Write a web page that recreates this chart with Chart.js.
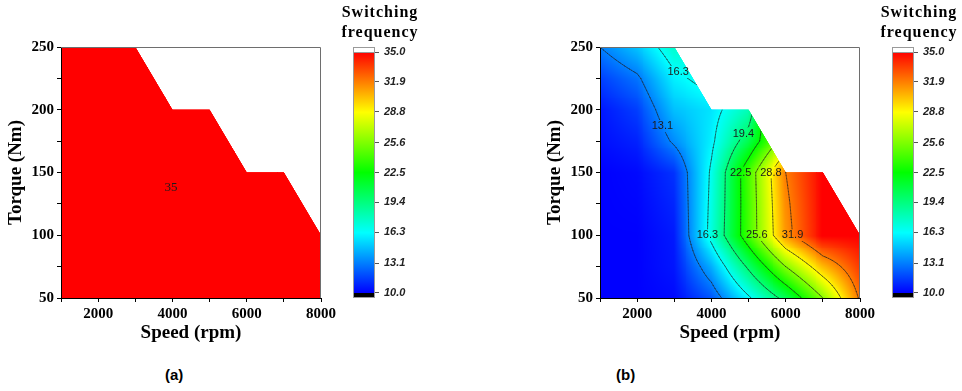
<!DOCTYPE html>
<html>
<head>
<meta charset="utf-8">
<script src="https://cdn.jsdelivr.net/npm/chart.js@4.4.1/dist/chart.umd.min.js"></script>
<style>
  html, body { margin: 0; padding: 0; background: #fff; }
  #figure { position: relative; width: 962px; height: 391px; overflow: hidden; background: #fff; }
  #figure canvas { position: absolute; top: 0; }
  .cbar-title { position: absolute; top: 2px; width: 80px; text-align: center; color: #000;
    font: bold 16px/20px "Liberation Serif", "Times New Roman", serif; letter-spacing: 1px; }
  .panel-tag { position: absolute; top: 366px; color: #000;
    font: bold 15px "Liberation Sans", Arial, sans-serif; }
</style>
</head>
<body>
<div id="figure">
  <canvas id="plotFixed" width="340" height="345" style="left:0px;width:340px;height:345px"></canvas>
  <canvas id="barFixed" width="80" height="300" style="left:340px;width:80px;height:300px"></canvas>
  <div class="cbar-title" style="left:340px">Switching<br>frequency</div>

  <canvas id="plotVariable" width="340" height="345" style="left:539px;width:340px;height:345px"></canvas>
  <canvas id="barVariable" width="80" height="300" style="left:879px;width:80px;height:300px"></canvas>
  <div class="cbar-title" style="left:879px">Switching<br>frequency</div>

  <div class="panel-tag" style="left:165px">(a)</div>
  <div class="panel-tag" style="left:616px">(b)</div>
</div>

<script>
// ---- operating grid -------------------------------------------------------
const speeds = [1000, 2000, 3000, 4000, 5000, 6000, 7000, 8000];          // rpm
const torques = [50, 75, 100, 125, 150, 175, 200, 225, 250];               // Nm
const torqueLimit = [250, 250, 250, 200, 200, 150, 150, 100];             // max torque per speed

// switching frequency (kHz), one row per torque (50 -> 250), one column per speed
const freqFixed = [
  [35, 35, 35, 35, 35, 35, 35, 35],
  [35, 35, 35, 35, 35, 35, 35, 35],
  [35, 35, 35, 35, 35, 35, 35, 35],
  [35, 35, 35, 35, 35, 35, 35, 35],
  [35, 35, 35, 35, 35, 35, 35, 35],
  [35, 35, 35, 35, 35, 35, 35, 35],
  [35, 35, 35, 35, 35, 35, 35, 35],
  [35, 35, 35, 35, 35, 35, 35, 35],
  [35, 35, 35, 35, 35, 35, 35, 35]
];
const freqVariable = [
  [10.0, 10.0, 10.2, 12.0, 16.0, 20.2, 25.6, 32.2],
  [10.0, 10.0, 10.5, 14.2, 19.8, 25.6, 30.3, 33.6],
  [10.0, 10.0, 10.6, 17.0, 24.0, 31.2, 35.0, 35.0],
  [10.0, 10.1, 10.9, 16.8, 24.0, 31.5, 35.0, 35.0],
  [10.0, 10.2, 11.2, 16.6, 24.1, 31.9, 35.0, 35.0],
  [10.3, 10.8, 13.4, 15.9, 20.6, 27.0, 35.0, 35.0],
  [10.5, 11.5, 14.7, 15.6, 18.0, 30.0, 35.0, 35.0],
  [11.5, 12.8, 15.9, 17.0, 18.0, 30.0, 35.0, 35.0],
  [13.1, 14.8, 17.5, 17.0, 18.0, 30.0, 35.0, 35.0]
];

// colour scale and contour levels
const colorTicks = [10.0, 13.1, 16.3, 19.4, 22.5, 25.6, 28.8, 31.9, 35.0];
const contourLevels = [13.1, 16.3, 19.4, 22.5, 25.6, 28.8, 31.9];

// contour labels: level and the torque row on which the label sits
const labelLevels = [16.3, 13.1, 19.4, 22.5, 28.8, 16.3, 25.6, 31.9];
const labelTorques = [230, 187, 181, 150, 150, 100, 100, 100];

// single label of the constant-frequency map
const fixedLabelText = '35';
const fixedLabelSpeed = 3960;
const fixedLabelTorque = 138;

// ---- styling --------------------------------------------------------------
const SERIF = '"Liberation Serif", "Times New Roman", serif';
const SANS = '"Liberation Sans", Arial, sans-serif';
const mapStops = [10, 16.25, 22.5, 28.75, 35];
const mapColors = [[0, 0, 255], [0, 255, 255], [0, 255, 0], [255, 255, 0], [255, 0, 0]];
const cMin = 10, cMax = 35;

function colorFor(v) {
  v = Math.max(cMin, Math.min(cMax, v));
  let k = 0;
  while (k < mapStops.length - 2 && v > mapStops[k + 1]) k++;
  const f = (v - mapStops[k]) / (mapStops[k + 1] - mapStops[k]);
  const a = mapColors[k], b = mapColors[k + 1];
  return 'rgb(' + Math.round(a[0] + (b[0] - a[0]) * f) + ',' +
    Math.round(a[1] + (b[1] - a[1]) * f) + ',' + Math.round(a[2] + (b[2] - a[2]) * f) + ')';
}

function locate(arr, v) {
  let i = 0;
  while (i < arr.length - 2 && v > arr[i + 1]) i++;
  return i;
}

// bilinear value of a grid at (speed, torque)
function sample(grid, s, t) {
  const i = locate(speeds, s), j = locate(torques, t);
  const u = (s - speeds[i]) / (speeds[i + 1] - speeds[i]);
  const w = (t - torques[j]) / (torques[j + 1] - torques[j]);
  return (1 - w) * ((1 - u) * grid[j][i] + u * grid[j][i + 1]) +
         w * ((1 - u) * grid[j + 1][i] + u * grid[j + 1][i + 1]);
}

function limitAt(s) {
  const i = locate(speeds, s);
  const u = (s - speeds[i]) / (speeds[i + 1] - speeds[i]);
  return torqueLimit[i] + (torqueLimit[i + 1] - torqueLimit[i]) * u;
}

// operating envelope as a canvas path
function envelopePath(ctx, x, y) {
  ctx.beginPath();
  ctx.moveTo(x.getPixelForValue(speeds[0]), y.getPixelForValue(torques[0]));
  ctx.lineTo(x.getPixelForValue(speeds[speeds.length - 1]), y.getPixelForValue(torques[0]));
  for (let i = speeds.length - 1; i >= 0; i--) {
    ctx.lineTo(x.getPixelForValue(speeds[i]), y.getPixelForValue(torqueLimit[i]));
  }
  ctx.closePath();
}

function drawField(ctx, x, y, grid) {
  for (let j = 0; j < torques.length - 1; j++) {
    for (let i = 0; i < speeds.length - 1; i++) {
      const ds = speeds[i + 1] - speeds[i], dt = torques[j + 1] - torques[j];
      const nx = Math.ceil(Math.abs(x.getPixelForValue(speeds[i + 1]) - x.getPixelForValue(speeds[i])));
      const ny = Math.ceil(Math.abs(y.getPixelForValue(torques[j + 1]) - y.getPixelForValue(torques[j])));
      for (let a = 0; a < nx; a++) {
        const s0 = speeds[i] + ds * a / nx, s1 = speeds[i] + ds * (a + 1) / nx;
        const px0 = Math.floor(x.getPixelForValue(s0)), px1 = Math.ceil(x.getPixelForValue(s1));
        for (let b = 0; b < ny; b++) {
          const t0 = torques[j] + dt * b / ny, t1 = torques[j] + dt * (b + 1) / ny;
          const py0 = Math.floor(y.getPixelForValue(t1)), py1 = Math.ceil(y.getPixelForValue(t0));
          ctx.fillStyle = colorFor(sample(grid, (s0 + s1) / 2, (t0 + t1) / 2));
          ctx.fillRect(px0, py0, px1 - px0, py1 - py0);
        }
      }
    }
  }
}

// marching squares on a refined copy of the grid
function contourSegments(grid, level) {
  const sStep = 50, tStep = 2.5;
  const ns = Math.round((speeds[speeds.length - 1] - speeds[0]) / sStep);
  const nt = Math.round((torques[torques.length - 1] - torques[0]) / tStep);
  const val = [];
  for (let b = 0; b <= nt; b++) {
    const row = [];
    for (let a = 0; a <= ns; a++) row.push(sample(grid, speeds[0] + a * sStep, torques[0] + b * tStep));
    val.push(row);
  }
  const segs = [];
  const cross = (s0, t0, v0, s1, t1, v1) => {
    const f = (level - v0) / (v1 - v0);
    return [s0 + (s1 - s0) * f, t0 + (t1 - t0) * f];
  };
  for (let b = 0; b < nt; b++) {
    for (let a = 0; a < ns; a++) {
      const s0 = speeds[0] + a * sStep, s1 = s0 + sStep;
      const t0 = torques[0] + b * tStep, t1 = t0 + tStep;
      const va = val[b][a], vb = val[b][a + 1], vc = val[b + 1][a + 1], vd = val[b + 1][a];
      const A = va >= level, B = vb >= level, C = vc >= level, D = vd >= level;
      const pts = [];
      if (A !== B) pts.push(cross(s0, t0, va, s1, t0, vb)); else pts.push(null);
      if (B !== C) pts.push(cross(s1, t0, vb, s1, t1, vc)); else pts.push(null);
      if (C !== D) pts.push(cross(s1, t1, vc, s0, t1, vd)); else pts.push(null);
      if (D !== A) pts.push(cross(s0, t1, vd, s0, t0, va)); else pts.push(null);
      const got = pts.filter(p => p);
      if (got.length === 2) segs.push(got);
      else if (got.length === 4) {
        const centre = (va + vb + vc + vd) / 4 >= level;
        if (centre === A) { segs.push([pts[0], pts[1]]); segs.push([pts[2], pts[3]]); }
        else { segs.push([pts[3], pts[0]]); segs.push([pts[1], pts[2]]); }
      }
    }
  }
  return segs;
}

// speed at which the map reaches a level on a given torque row
function speedOnRow(grid, level, t) {
  let prev = sample(grid, speeds[0], t);
  for (let s = speeds[0] + 5; s <= speeds[speeds.length - 1]; s += 5) {
    const v = sample(grid, s, t);
    if ((prev - level) * (v - level) <= 0 && prev !== v) {
      return s - 5 + 5 * (level - prev) / (v - prev);
    }
    prev = v;
  }
  return null;
}

function mapPlugin(grid, labels) {
  return {
    id: 'frequencyMap',
    beforeDraw(chart) {
      const { ctx, chartArea: area, scales: { x, y } } = chart;
      const boxes = labels.map(l => {
        ctx.font = l.font;
        const w = ctx.measureText(l.text).width;
        return { ...l, px: x.getPixelForValue(l.speed), py: y.getPixelForValue(l.torque), w };
      });

      ctx.save();
      envelopePath(ctx, x, y);
      ctx.clip();
      drawField(ctx, x, y, grid);

      // contour lines, broken behind their labels
      ctx.beginPath();
      ctx.rect(area.left, area.top, area.right - area.left, area.bottom - area.top);
      boxes.forEach(bx => ctx.rect(bx.px - bx.w / 2 - 1.5, bx.py - 6, bx.w + 3, 12));
      ctx.clip('evenodd');
      ctx.strokeStyle = 'rgba(35,35,35,0.7)';
      ctx.lineWidth = 0.8;
      ctx.lineCap = 'round';
      contourLevels.forEach(level => {
        const segs = contourSegments(grid, level);
        if (!segs.length) return;
        ctx.beginPath();
        segs.forEach(([p, q]) => {
          ctx.moveTo(x.getPixelForValue(p[0]), y.getPixelForValue(p[1]));
          ctx.lineTo(x.getPixelForValue(q[0]), y.getPixelForValue(q[1]));
        });
        ctx.stroke();
      });
      ctx.restore();

      ctx.save();
      boxes.forEach(bx => {
        ctx.fillStyle = '#1c1c1c';
        ctx.font = bx.font;
        ctx.textAlign = 'center';
        ctx.textBaseline = 'middle';
        ctx.fillText(bx.text, bx.px, bx.py);
      });
      ctx.restore();
    },
    afterDraw(chart) {
      const { ctx, chartArea: area } = chart;
      ctx.save();
      ctx.strokeStyle = '#6e6e6e';
      ctx.lineWidth = 1;
      ctx.beginPath();
      ctx.moveTo(area.left, area.top + 0.5);
      ctx.lineTo(area.right - 0.5, area.top + 0.5);
      ctx.lineTo(area.right - 0.5, area.bottom);
      ctx.stroke();
      ctx.restore();
    }
  };
}

const tickFont = { family: SERIF, size: 15, weight: 'bold' };
const axisTitleFont = { family: SERIF, size: 19, weight: 'bold' };

function mapChart(id, grid, labels) {
  const points = [];
  torques.forEach(t => speeds.forEach((s, i) => { if (t <= torqueLimit[i]) points.push({ x: s, y: t }); }));
  return new Chart(document.getElementById(id), {
    type: 'scatter',
    data: { datasets: [{ data: points, pointRadius: 0, pointHoverRadius: 0 }] },
    options: {
      responsive: false, animation: false, events: [],
      layout: { padding: { top: 47, right: 19, left: 0, bottom: 0 } },
      plugins: { legend: { display: false }, tooltip: { enabled: false } },
      scales: {
        x: {
          type: 'linear', min: speeds[0], max: speeds[speeds.length - 1],
          afterFit(s) { s.height = 47; },
          ticks: { stepSize: 1000, autoSkip: false, maxRotation: 0, padding: 3, color: '#000', font: tickFont,
                   callback: v => (v % 2000 === 0 ? String(v) : '') },
          grid: { drawOnChartArea: false, drawTicks: true, tickLength: 4, tickColor: '#000' },
          border: { display: true, color: '#000', width: 1 },
          title: { display: true, text: 'Speed (rpm)', color: '#000', font: axisTitleFont, padding: { top: 0, bottom: 1 } }
        },
        y: {
          type: 'linear', min: torques[0], max: torques[torques.length - 1],
          afterFit(s) { s.width = 61; },
          ticks: { stepSize: 25, autoSkip: false, padding: 3, color: '#000', font: tickFont,
                   callback: v => (v % 50 === 0 ? String(v) : '') },
          grid: { drawOnChartArea: false, drawTicks: true, tickLength: 4, tickColor: '#000' },
          border: { display: true, color: '#000', width: 1 },
          title: { display: true, text: 'Torque (Nm)', color: '#000', font: axisTitleFont, padding: { top: 5, bottom: 0 } }
        }
      }
    },
    plugins: [mapPlugin(grid, labels)]
  });
}

const colorBarPlugin = {
  id: 'colorBar',
  beforeDraw(chart) {
    const { ctx, chartArea: area, scales: { y } } = chart;
    const w = area.right - area.left;
    const pTop = y.getPixelForValue(cMax), pBot = y.getPixelForValue(cMin);
    ctx.save();
    ctx.fillStyle = '#fff';
    ctx.fillRect(area.left, area.top, w, pTop - area.top);
    const g = ctx.createLinearGradient(0, pBot, 0, pTop);
    mapStops.forEach(s => g.addColorStop((s - cMin) / (cMax - cMin), colorFor(s)));
    ctx.fillStyle = g;
    ctx.fillRect(area.left, pTop, w, pBot - pTop);
    ctx.fillStyle = '#000';
    ctx.fillRect(area.left, pBot, w, area.bottom - pBot);
    ctx.strokeStyle = '#9a9a9a';
    ctx.lineWidth = 1;
    ctx.strokeRect(area.left + 0.5, area.top + 0.5, w - 1, area.bottom - area.top - 1);
    ctx.beginPath();
    ctx.moveTo(area.left, pTop + 0.5);
    ctx.lineTo(area.right, pTop + 0.5);
    ctx.stroke();
    ctx.restore();
  }
};

function colorBarChart(id) {
  return new Chart(document.getElementById(id), {
    type: 'scatter',
    data: { datasets: [{ data: [] }] },
    options: {
      responsive: false, animation: false, events: [],
      layout: { padding: { top: 47, bottom: 2, left: 13, right: 0 } },
      plugins: { legend: { display: false }, tooltip: { enabled: false } },
      scales: {
        x: { display: false, min: 0, max: 1 },
        y: {
          position: 'right', min: 9.48, max: 35.52,
          afterFit(s) { s.width = 45; s.paddingTop = 0; s.paddingBottom = 0; },
          afterBuildTicks(s) { s.ticks = colorTicks.map(v => ({ value: v })); },
          ticks: { color: '#222', padding: 5, font: { family: SANS, size: 11, style: 'italic', weight: 'bold' },
                   callback: v => Number(v).toFixed(1) },
          grid: { drawOnChartArea: false, drawTicks: true, tickLength: 4, tickColor: '#555' },
          border: { display: false }
        }
      }
    },
    plugins: [colorBarPlugin]
  });
}

const fixedLabels = [{ text: fixedLabelText, speed: fixedLabelSpeed, torque: fixedLabelTorque, font: '13px ' + SERIF }];
const variableLabels = labelLevels.map((lv, k) => ({
  text: lv.toFixed(1),
  speed: speedOnRow(freqVariable, lv, labelTorques[k]),
  torque: labelTorques[k],
  font: '11px ' + SANS
})).filter(l => l.speed !== null);

mapChart('plotFixed', freqFixed, fixedLabels);
colorBarChart('barFixed');
mapChart('plotVariable', freqVariable, variableLabels);
colorBarChart('barVariable');
</script>
</body>
</html>
